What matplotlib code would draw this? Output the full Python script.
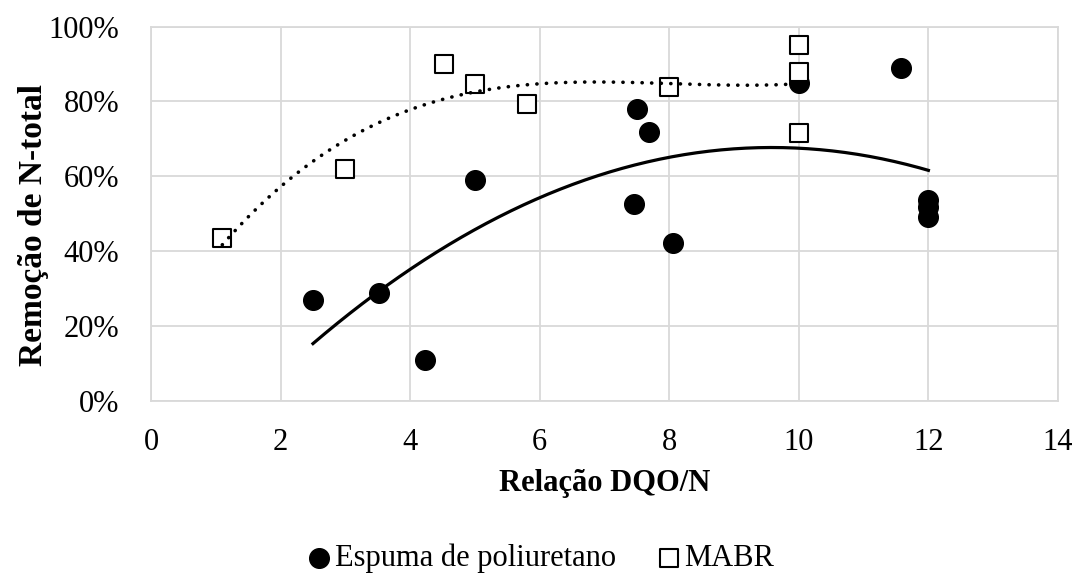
import numpy as np
import matplotlib
matplotlib.use("Agg")
from matplotlib import pyplot as plt
from matplotlib.ticker import PercentFormatter

plt.rcParams['font.family'] = ['Liberation Serif', 'DejaVu Serif']

# Espuma de poliuretano
espuma_x = [2.5, 3.52, 4.23, 5.0, 7.5, 7.69, 7.45, 8.06, 10.0, 11.58, 12.0, 12.0, 12.0]
espuma_y = [26.9, 28.9, 10.9, 59.0, 78.1, 71.8, 52.6, 42.2, 85.0, 89.0, 53.7, 51.9, 49.2]

# MABR
mabr_x = [1.1, 3.0, 4.53, 5.0, 5.8, 8.0, 10.0, 10.0, 10.0]
mabr_y = [43.4, 62.0, 90.1, 84.7, 79.2, 83.9, 95.1, 88.0, 71.7]

grid_c = '#d9d9d9'
fs = 22

fig = plt.figure(figsize=(10.81, 5.75), dpi=100)
ax = fig.add_axes([0.1397, 0.3031, 0.8390, 0.6505])

ax.scatter(espuma_x, espuma_y, s=200, marker='o', color='black', zorder=3,
           label='Espuma de poliuretano')
ax.scatter(mabr_x, mabr_y, s=180, marker='s', facecolor='white', edgecolor='black',
           linewidth=1.5, zorder=3, label='MABR')

# polynomial trend lines
p1 = np.polyfit(espuma_x, espuma_y, 2)
xs1 = np.linspace(min(espuma_x), max(espuma_x), 200)
ax.plot(xs1, np.polyval(p1, xs1), color='black', lw=2.3, zorder=4)

p2 = np.polyfit(mabr_x, mabr_y, 3)
xs2 = np.linspace(min(mabr_x), max(mabr_x), 200)
ax.plot(xs2, np.polyval(p2, xs2), color='black', lw=2.6, zorder=4,
        linestyle=(0, (0.05, 2.6)), dash_capstyle='round')

ax.set_xlim(0, 14)
ax.set_ylim(0, 100)
ax.set_xticks(np.arange(0, 15, 2))
ax.set_yticks(np.arange(0, 101, 20))
ax.yaxis.set_major_formatter(PercentFormatter(decimals=0))
ax.grid(True, color=grid_c, lw=1.3)
ax.set_axisbelow(True)
for s in ax.spines.values():
    s.set_color(grid_c)
    s.set_linewidth(1.3)
ax.tick_params(length=0, labelsize=fs)
ax.tick_params(axis='x', pad=20)
ax.tick_params(axis='y', pad=23)

ax.set_xlabel('Relação DQO/N', fontsize=fs, fontweight='bold', labelpad=8)
ax.set_ylabel('Remoção de N-total', fontsize=24, fontweight='bold')
ax.yaxis.set_label_coords(-0.112, 0.47)

fig.legend(loc='center', bbox_to_anchor=(0.5, 0.0296), ncol=2, frameon=False,
           fontsize=fs, handlelength=0.8, handletextpad=0.1, columnspacing=1.34,
           borderpad=0)

fig.savefig('out.png', dpi=100)
